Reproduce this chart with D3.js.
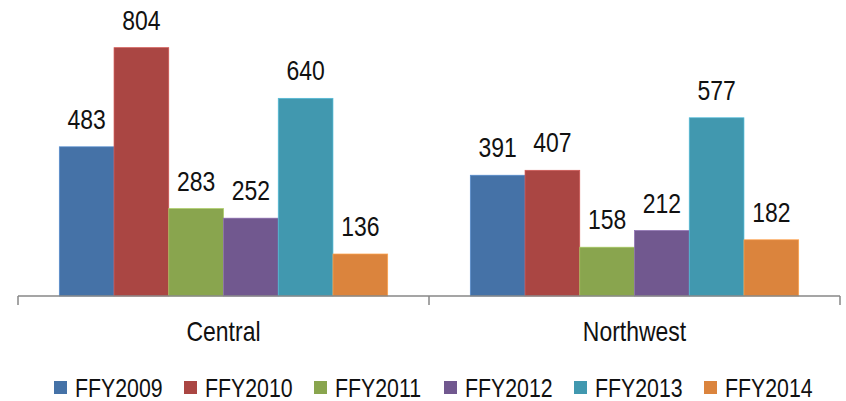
<!DOCTYPE html>
<html>
<head>
<meta charset="utf-8">
<script src="https://cdn.jsdelivr.net/npm/d3@7"></script>
<style>
  html, body { margin: 0; padding: 0; background: #fff; }
  svg text { font-family: "Liberation Sans", Arial, sans-serif; fill: #111; }
</style>
</head>
<body>
<svg width="846" height="401"></svg>
<script>
// regions on the x axis
var categories = ["Central", "Northwest"]
var seriesNames = ["FFY2009", "FFY2010", "FFY2011", "FFY2012", "FFY2013", "FFY2014"]
// one array per series, in category order
var ffy2009 = [483, 391]
var ffy2010 = [804, 407]
var ffy2011 = [283, 158]
var ffy2012 = [252, 212]
var ffy2013 = [640, 577]
var ffy2014 = [136, 182]
var seriesValues = [ffy2009, ffy2010, ffy2011, ffy2012, ffy2013, ffy2014]
var colors = ["#4572A7", "#AA4643", "#89A54E", "#71588F", "#4198AF", "#DB843D"]

// no narrow font installed, so squeeze Liberation Sans like Arial Narrow
var narrow = 0.82
function place(x, y) { return "translate(" + x + "," + y + ") scale(" + narrow + ",1)" }

var svg = d3.select("svg")

var x0 = d3.scaleBand().domain(categories).range([18, 840]).padding(0)
var inner = 41.3
var x1 = d3.scaleBand().domain(seriesNames).range([inner, x0.bandwidth() - inner]).padding(0)
var yScale = d3.scaleLinear().domain([0, 900]).range([296, 18])
var cScale = d3.scaleOrdinal().domain(seriesNames).range(colors)

// flatten into rows for drawing
var rows = []
categories.forEach((c, ci) => {
    seriesNames.forEach((s, si) => {
        rows.push({cat: c, series: s, value: seriesValues[si][ci]})
    })
})

var groups = svg.selectAll("g.overallG")
    .data(categories)
    .enter()
    .append("g")
    .attr("class", "overallG")
    .attr("transform", d => "translate(" + x0(d) + ",0)")

groups.selectAll("rect")
    .data(c => rows.filter(r => r.cat == c))
    .enter()
    .append("rect")
    .attr("x", d => x1(d.series))
    .attr("y", d => yScale(d.value))
    .attr("width", x1.bandwidth())
    .attr("height", d => yScale(0) - yScale(d.value))
    .attr("fill", d => cScale(d.series))
    .attr("stroke", d => d3.color(cScale(d.series)).brighter(0.6))
    .attr("stroke-width", 0.7)

groups.selectAll("text.valueLabel")
    .data(c => rows.filter(r => r.cat == c))
    .enter()
    .append("text")
    .attr("class", "valueLabel")
    .attr("transform", d => place(x1(d.series) + x1.bandwidth() / 2, yScale(d.value) - 18))
    .attr("text-anchor", "middle")
    .style("font-size", "28px")
    .text(d => d.value)

// category axis, Excel style with ticks between groups
var xAxis = d3.axisBottom(x0).tickSize(0).tickPadding(0)
var axisG = svg.append("g").attr("id", "xAxis")
    .attr("transform", "translate(0," + yScale(0) + ")")
    .call(xAxis)
axisG.select(".domain").remove()
axisG.selectAll(".tick text").remove()
axisG.append("line")
    .attr("x1", 18).attr("x2", 840)
    .attr("stroke", "#878787").attr("stroke-width", 1.5)
axisG.selectAll("line.sep")
    .data([18, x0("Northwest"), 840])
    .enter()
    .append("line")
    .attr("class", "sep")
    .attr("x1", d => d).attr("x2", d => d)
    .attr("y1", 0).attr("y2", 9)
    .attr("stroke", "#878787").attr("stroke-width", 1.5)

svg.selectAll("text.catLabel")
    .data(categories)
    .enter()
    .append("text")
    .attr("class", "catLabel")
    .attr("transform", d => place(x0(d) + x0.bandwidth() / 2, 341))
    .attr("text-anchor", "middle")
    .style("font-size", "28px")
    .text(d => d)

// legend
var legend = svg.append("g").attr("class", "legend")
var items = legend.selectAll("g")
    .data(seriesNames)
    .enter()
    .append("g")
    .attr("transform", (d, i) => "translate(" + (54 + i * 130) + ",381)")
items.append("rect")
    .attr("width", 13).attr("height", 13)
    .attr("fill", d => cScale(d))
items.append("text")
    .attr("transform", place(21, 15.5))
    .style("font-size", "26px")
    .text(d => d)
</script>
</body>
</html>
